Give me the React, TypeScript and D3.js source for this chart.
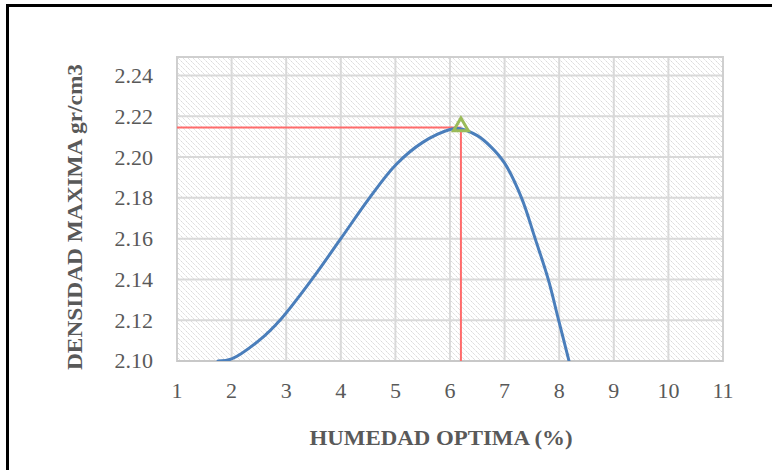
import React from "react";
import * as d3 from "d3";

const humedad = [1.75, 2.0, 2.5, 2.886, 3.47, 4.0, 4.5, 5.0, 5.5, 6.0, 6.15, 6.5, 6.75, 7.0, 7.31, 7.56, 7.8, 7.98, 8.18];
const densidad = [2.1, 2.101, 2.11, 2.12, 2.14, 2.16, 2.179, 2.196, 2.2072, 2.2135, 2.214, 2.2105, 2.205, 2.197, 2.18, 2.16, 2.14, 2.121, 2.1];
const optimo = { x: 6.2, y: 2.2145 };
const xTicks = [1, 2, 3, 4, 5, 6, 7, 8, 9, 10, 11];
const yTicks = [2.1, 2.12, 2.14, 2.16, 2.18, 2.2, 2.22, 2.24];
const xTitle = "HUMEDAD OPTIMA (%)";
const yTitle = "DENSIDAD MAXIMA gr/cm3";

const W = 772;
const H = 470;
const L = 177, R = 723, T = 57, B = 361;

export default function App() {
  const x = d3.scaleLinear().domain([1, 11]).range([L, R]);
  const y = d3.scaleLinear().domain([2.1, 2.24]).range([B, 75.5]);
  const pts: [number, number][] = humedad.map((h, i) => [h, densidad[i]]);
  const line = d3
    .line<[number, number]>()
    .x((d) => x(d[0]))
    .y((d) => y(d[1]))
    .curve(d3.curveCatmullRom.alpha(0.5));
  const font = "'Liberation Serif', 'Times New Roman', serif";
  const gray = "#595959";
  const tx = x(optimo.x);
  const ty = y(optimo.y);
  const tri = d3.symbol().type(d3.symbolTriangle).size(95)();
  return (
    <div>
      <style>{`body{margin:0}`}</style>
      <svg width={W} height={H} style={{ display: "block" }}>
        <defs>
          <pattern id="hatch" width="5" height="5" patternUnits="userSpaceOnUse">
            <rect width="5" height="5" fill="#ffffff" />
            <path d="M-1,-1 L6,6 M-1,4 L1,6 M4,-1 L6,1" stroke="#d6d6d6" strokeWidth="1" strokeDasharray="2,1" />
          </pattern>
          <clipPath id="plot">
            <rect x={L} y={T} width={R - L} height={B - T} />
          </clipPath>
        </defs>
        <rect x={0} y={0} width={W} height={H} fill="#fff" />
        <rect x={7.5} y={5.5} width={900} height={600} fill="none" stroke="#000" strokeWidth={3} />
        <rect x={L} y={T} width={R - L} height={B - T} fill="url(#hatch)" />
        {xTicks.map((t) => (
          <line key={"gx" + t} x1={x(t)} x2={x(t)} y1={T} y2={B} stroke="#d9d9d9" strokeWidth={2} />
        ))}
        {yTicks.map((t) => (
          <line key={"gy" + t} x1={L} x2={R} y1={y(t)} y2={y(t)} stroke="#d9d9d9" strokeWidth={2} />
        ))}
        <rect x={L} y={T} width={R - L} height={B - T} fill="none" stroke="#cfcfcf" strokeWidth={2} />
        <line x1={L} x2={R} y1={B} y2={B} stroke="#c8c8c8" strokeWidth={2} />
        <g clipPath="url(#plot)">
          <line x1={L} x2={tx} y1={ty} y2={ty} stroke="#ff6b6b" strokeWidth={2} />
          <line x1={tx} x2={tx} y1={ty} y2={B} stroke="#ff6b6b" strokeWidth={2} />
          <path d={line(pts) || ""} fill="none" stroke="#4a7ebb" strokeWidth={3} strokeLinecap="round" />
        </g>
        <path d={tri || ""} transform={`translate(${tx},${ty - 1})`} fill="none" stroke="#9bbb59" strokeWidth={3} />
        {xTicks.map((t) => (
          <text key={"tx" + t} x={x(t)} y={398} textAnchor="middle" fontFamily={font} fontSize={22} fill={gray}>
            {t}
          </text>
        ))}
        {yTicks.map((t) => (
          <text key={"ty" + t} x={153} y={y(t)} dy="0.34em" textAnchor="end" fontFamily={font} fontSize={22} fill={gray}>
            {t.toFixed(2)}
          </text>
        ))}
        <text x={441} y={445} textAnchor="middle" fontFamily={font} fontSize={22} fontWeight="bold" fill={gray} textLength={263} lengthAdjust="spacingAndGlyphs">
          {xTitle}
        </text>
        <text transform={`translate(82,217) rotate(-90)`} textAnchor="middle" fontFamily={font} fontSize={22} fontWeight="bold" fill={gray} textLength={306} lengthAdjust="spacingAndGlyphs">
          {yTitle}
        </text>
      </svg>
    </div>
  );
}
